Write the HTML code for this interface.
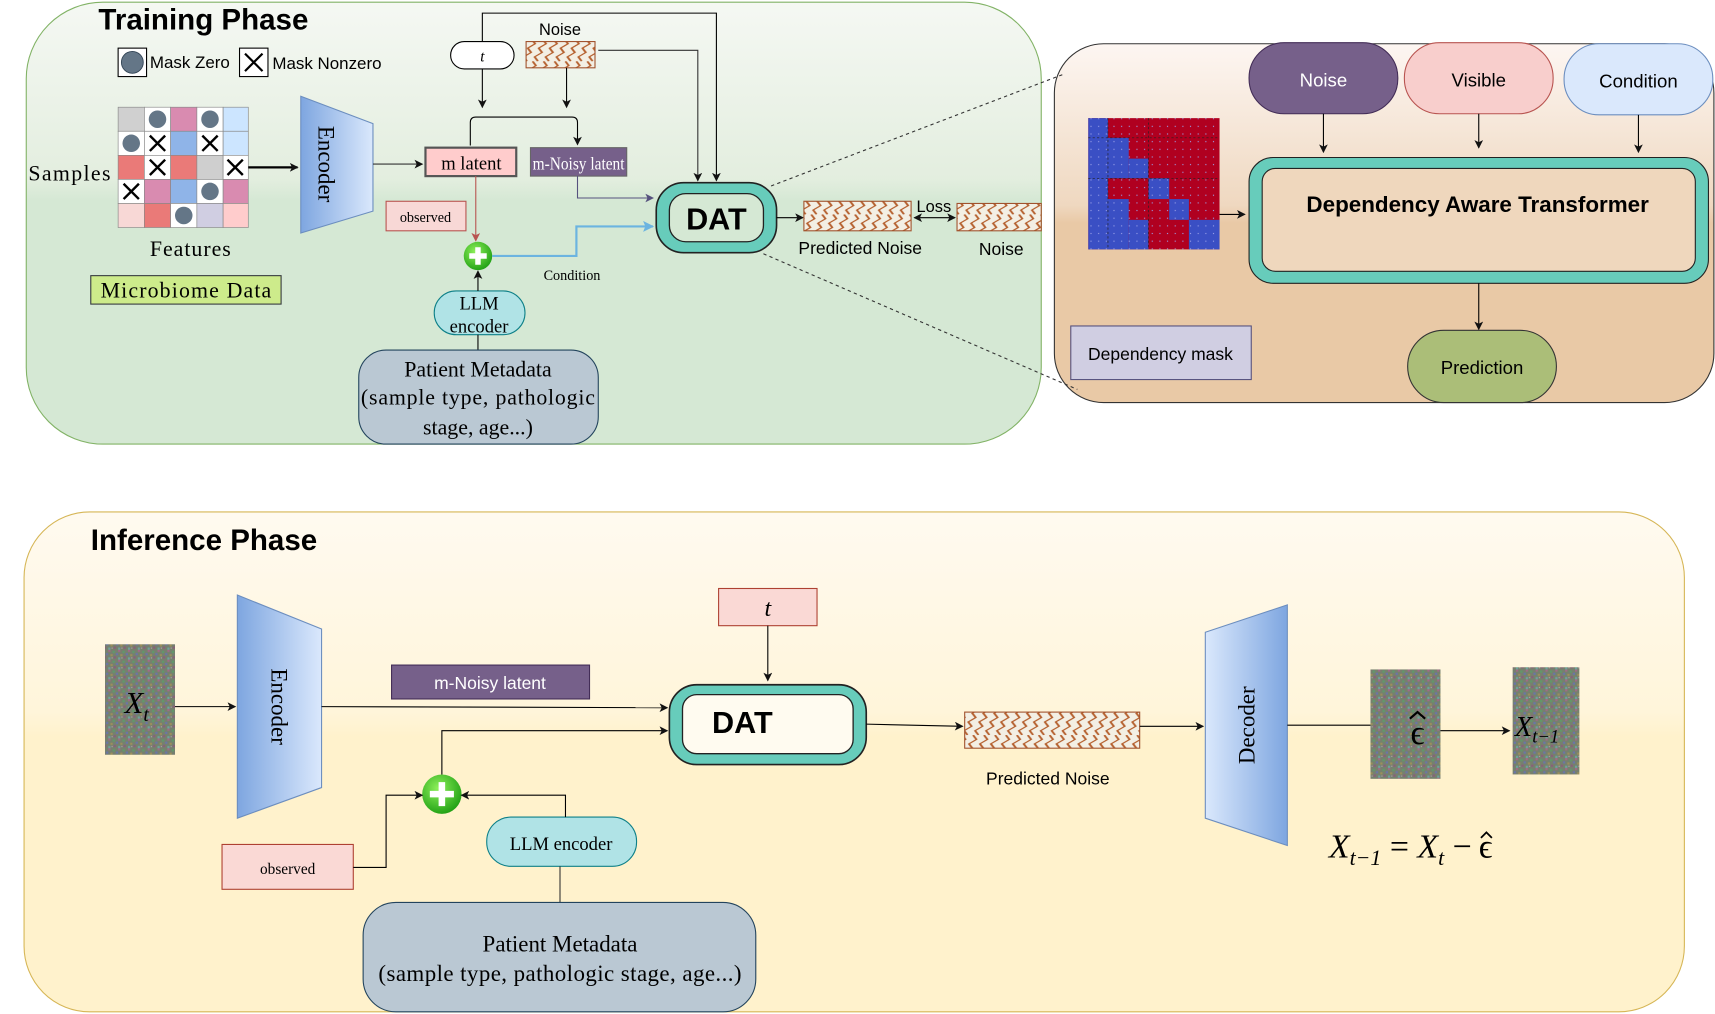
<!DOCTYPE html>
<html><head><meta charset="utf-8"><style>
html,body{margin:0;padding:0;background:#fff;}
svg{display:block;}
.sans{font-family:"Liberation Sans",sans-serif;}
.serif{font-family:"Liberation Serif",serif;}
</style></head><body>
<svg width="1715" height="1014" viewBox="0 0 1568 927" preserveAspectRatio="none" xmlns="http://www.w3.org/2000/svg">
<defs>
<linearGradient id="gTrain" x1="0" y1="0" x2="0" y2="1"><stop offset="0" stop-color="#f5f8f3"/><stop offset="0.4" stop-color="#e3eedf"/><stop offset="0.45" stop-color="#d5e8d4"/><stop offset="1" stop-color="#d5e8d4"/></linearGradient>
<linearGradient id="gRight" x1="0" y1="0" x2="0" y2="1"><stop offset="0" stop-color="#fdf6f2"/><stop offset="0.45" stop-color="#efd8c0"/><stop offset="0.5" stop-color="#e9c9a6"/><stop offset="1" stop-color="#e9c9a6"/></linearGradient>
<linearGradient id="gInf" x1="0" y1="0" x2="0" y2="1"><stop offset="0" stop-color="#fffaf0"/><stop offset="0.4" stop-color="#fff5da"/><stop offset="0.45" stop-color="#fff2cc"/><stop offset="1" stop-color="#fff2cc"/></linearGradient>
<linearGradient id="gEnc" x1="0" y1="0" x2="1" y2="0"><stop offset="0" stop-color="#7ea6e0"/><stop offset="1" stop-color="#dae8fc"/></linearGradient>
<linearGradient id="gDec" x1="0" y1="0" x2="1" y2="0"><stop offset="0" stop-color="#dae8fc"/><stop offset="1" stop-color="#7ea6e0"/></linearGradient>
<radialGradient id="gPlus" cx="0.4" cy="0.35" r="0.7"><stop offset="0" stop-color="#8ef05a"/><stop offset="1" stop-color="#1d9e12"/></radialGradient>
<pattern id="zig" width="10" height="28" patternUnits="userSpaceOnUse" patternTransform="skewX(-25)">
<rect x="-20" width="40" height="28" fill="#f3efe4"/>
<path d="M3,0 l5,4 -5,4 5,4 -5,4 5,4 -5,4 5,4" fill="none" stroke="#b5602e" stroke-width="1.4"/>
</pattern>
<pattern id="noise" width="9" height="9" patternUnits="userSpaceOnUse">
<rect width="9" height="9" fill="#76806e"/>
<rect x="0" y="0" width="2" height="2" fill="#a26a86"/><rect x="4" y="1" width="2" height="2" fill="#5f9a6a"/>
<rect x="7" y="3" width="2" height="2" fill="#6a75a8"/><rect x="2" y="4" width="2" height="2" fill="#9c8f5a"/>
<rect x="5" y="6" width="2" height="2" fill="#8a5f7a"/><rect x="0" y="7" width="2" height="2" fill="#6aa59a"/>
<rect x="3" y="7" width="1" height="1" fill="#c0a0b0"/>
</pattern>
<pattern id="dots" width="7" height="7" patternUnits="userSpaceOnUse"><rect x="3" y="3" width="1" height="1" fill="#9aa0e8"/></pattern>
<marker id="ar" markerWidth="8" markerHeight="8" refX="7" refY="4" orient="auto" markerUnits="userSpaceOnUse"><path d="M0,0 L8,4 L0,8 L2,4 z" fill="#111"/></marker>
<marker id="arR" markerWidth="8" markerHeight="8" refX="7" refY="4" orient="auto" markerUnits="userSpaceOnUse"><path d="M0,0 L8,4 L0,8 L2,4 z" fill="#b85450"/></marker>
<marker id="arB" markerWidth="10" markerHeight="10" refX="9" refY="5" orient="auto" markerUnits="userSpaceOnUse"><path d="M0,0 L10,5 L0,10 L2,5 z" fill="#6cb4e0"/></marker>
<marker id="arP" markerWidth="8" markerHeight="8" refX="7" refY="4" orient="auto" markerUnits="userSpaceOnUse"><path d="M0,0 L8,4 L0,8 L2,4 z" fill="#56517e"/></marker>
<marker id="arS" markerWidth="8" markerHeight="8" refX="1" refY="4" orient="auto" markerUnits="userSpaceOnUse"><path d="M8,0 L0,4 L8,8 L6,4 z" fill="#111"/></marker>
</defs>

<rect x="24" y="2" width="928" height="404" rx="70" fill="url(#gTrain)" stroke="#82b366" stroke-width="1"/>
<rect x="964" y="40" width="603" height="328" rx="45" fill="url(#gRight)" stroke="#333" stroke-width="1"/>
<rect x="22" y="468" width="1518" height="457" rx="60" fill="url(#gInf)" stroke="#d6b656" stroke-width="1"/>

<!-- Training -->
<text x="90" y="27" class="sans" font-size="27" font-weight="bold">Training Phase</text>
<rect x="108" y="44" width="26" height="26" fill="#fff" stroke="#000"/><circle cx="121" cy="57" r="10" fill="#647687" stroke="#314354" stroke-width="0.8"/>
<text x="137" y="62" class="sans" font-size="15.5">Mask Zero</text>
<rect x="219" y="44" width="26" height="26" fill="#fff" stroke="#000"/><path d="M224,49 l16,16 M240,49 l-16,16" stroke="#000" stroke-width="2"/>
<text x="249" y="63" class="sans" font-size="15.5">Mask Nonzero</text>

<g stroke="#888" stroke-width="0.6">
<rect x="108" y="98" width="24" height="22" fill="#d0d0d0"/><rect x="132" y="98" width="24" height="22" fill="#fff"/><rect x="156" y="98" width="24" height="22" fill="#d98bb0"/><rect x="180" y="98" width="24" height="22" fill="#fff"/><rect x="204" y="98" width="23" height="22" fill="#cce5ff"/>
<rect x="108" y="120" width="24" height="22" fill="#fff"/><rect x="132" y="120" width="24" height="22" fill="#fff"/><rect x="156" y="120" width="24" height="22" fill="#8fb4e8"/><rect x="180" y="120" width="24" height="22" fill="#fff"/><rect x="204" y="120" width="23" height="22" fill="#cce5ff"/>
<rect x="108" y="142" width="24" height="22" fill="#ea7a78"/><rect x="132" y="142" width="24" height="22" fill="#fff"/><rect x="156" y="142" width="24" height="22" fill="#ea7a78"/><rect x="180" y="142" width="24" height="22" fill="#cfcfcf"/><rect x="204" y="142" width="23" height="22" fill="#fff"/>
<rect x="108" y="164" width="24" height="22" fill="#fff"/><rect x="132" y="164" width="24" height="22" fill="#d98bb0"/><rect x="156" y="164" width="24" height="22" fill="#8fb4e8"/><rect x="180" y="164" width="24" height="22" fill="#fff"/><rect x="204" y="164" width="23" height="22" fill="#d98bb0"/>
<rect x="108" y="186" width="24" height="22" fill="#f8d8d6"/><rect x="132" y="186" width="24" height="22" fill="#ea7a78"/><rect x="156" y="186" width="24" height="22" fill="#fff"/><rect x="180" y="186" width="24" height="22" fill="#d0cee2"/><rect x="204" y="186" width="23" height="22" fill="#ffcccc"/>
</g>
<g fill="#647687">
<circle cx="144" cy="109" r="8"/><circle cx="192" cy="109" r="8"/><circle cx="120" cy="131" r="8"/><circle cx="192" cy="175" r="8"/><circle cx="168" cy="197" r="8"/>
</g>
<g stroke="#000" stroke-width="2.2">
<path d="M137,124 l14,14 M151,124 l-14,14"/><path d="M185,124 l14,14 M199,124 l-14,14"/>
<path d="M137,146 l14,14 M151,146 l-14,14"/><path d="M208,146 l14,14 M222,146 l-14,14"/>
<path d="M113,168 l14,14 M127,168 l-14,14"/>
</g>
<text x="26" y="165" class="serif" font-size="20" textLength="75">Samples</text>
<text x="137" y="234" class="serif" font-size="20" textLength="74">Features</text>
<rect x="83" y="252" width="174" height="26" fill="#cdeb8b" stroke="#36393d"/>
<text x="170" y="272" class="serif" font-size="20" text-anchor="middle" textLength="156">Microbiome Data</text>
<line x1="227" y1="153" x2="272" y2="153" stroke="#000" stroke-width="2" marker-end="url(#ar)"/>

<polygon points="275,88 341,113 341,193 275,213" fill="url(#gEnc)" stroke="#6c8ebf"/>
<text transform="translate(291,150) rotate(90)" class="serif" font-size="21" text-anchor="middle">Encoder</text>
<line x1="341" y1="150" x2="386" y2="150" stroke="#333" marker-end="url(#ar)"/>

<rect x="389" y="135" width="83" height="26" fill="#ffcccc" stroke="#555" stroke-width="2"/>
<text x="431" y="155" class="serif" font-size="17" text-anchor="middle">m latent</text>
<rect x="485" y="135" width="88" height="26" fill="#76608a" stroke="#666"/>
<text x="529" y="155" class="serif" font-size="16" text-anchor="middle" fill="#fff" textLength="84" lengthAdjust="spacingAndGlyphs">m-Noisy latent</text>

<rect x="412" y="38" width="58" height="25" rx="12.5" fill="#fff" stroke="#000"/>
<text x="441" y="56" class="serif" font-size="14" font-style="italic" text-anchor="middle">t</text>
<text x="512" y="32" class="sans" font-size="15" text-anchor="middle">Noise</text>
<rect x="481" y="38" width="63" height="24" fill="url(#zig)" stroke="#a0522d"/>

<path d="M441,38 V12 H655 V165" fill="none" stroke="#000" marker-end="url(#ar)"/>
<path d="M547,46 H638 V165" fill="none" stroke="#333" marker-end="url(#ar)"/>
<line x1="441" y1="63" x2="441" y2="98" stroke="#000" marker-end="url(#ar)"/>
<line x1="518" y1="62" x2="518" y2="98" stroke="#000" marker-end="url(#ar)"/>
<path d="M430,133 V112 q0,-5 5,-5 H523 q5,0 5,5 V132" fill="none" stroke="#000" marker-end="url(#ar)"/>

<line x1="435" y1="161" x2="435" y2="220" stroke="#b85450" marker-end="url(#arR)"/>
<rect x="353" y="184" width="73" height="27" fill="#f8d8d6" stroke="#b85450"/>
<text x="389" y="203" class="serif" font-size="13" text-anchor="middle">observed</text>
<circle cx="437" cy="234" r="13" fill="url(#gPlus)"/>
<path d="M437,226 V242 M429,234 H445" stroke="#fff" stroke-width="5"/>
<path d="M450,234 H527 V207 H597" fill="none" stroke="#6cb4e0" stroke-width="2" marker-end="url(#arB)"/>
<path d="M528,161 V181 H597" fill="none" stroke="#56517e" marker-end="url(#arP)"/>
<text x="497" y="256" class="serif" font-size="13">Condition</text>

<rect x="397" y="266" width="83" height="40" rx="20" fill="#b0e3e6" stroke="#0e8088"/>
<text x="438" y="283" class="serif" font-size="17" text-anchor="middle">LLM</text>
<text x="438" y="304" class="serif" font-size="17" text-anchor="middle">encoder</text>
<line x1="437" y1="266" x2="437" y2="248" stroke="#000" marker-end="url(#ar)"/>
<line x1="437" y1="306" x2="437" y2="320" stroke="#000"/>
<rect x="328" y="320" width="219" height="86" rx="25" fill="#bac8d3" stroke="#23445d"/>
<g class="serif" font-size="20" text-anchor="middle"><text x="437" y="344">Patient Metadata</text><text x="437" y="370" textLength="214">(sample type, pathologic</text><text x="437" y="397">stage, age...)</text></g>

<rect x="600" y="167" width="110" height="64" rx="25" fill="#67ccbb" stroke="#222" stroke-width="1.5"/>
<rect x="612" y="177" width="86" height="44" rx="15" fill="#d5e8d4" stroke="#222" stroke-width="1.2"/>
<text x="655" y="210" class="sans" font-size="28" font-weight="bold" text-anchor="middle">DAT</text>
<line x1="710" y1="199" x2="734" y2="199" stroke="#000" marker-end="url(#ar)"/>
<rect x="735" y="184" width="98" height="27" fill="url(#zig)" stroke="#a0522d"/>
<line x1="836" y1="199" x2="873" y2="199" stroke="#000" marker-end="url(#ar)" marker-start="url(#arS)"/>
<text x="838" y="194" class="sans" font-size="15">Loss</text>
<rect x="875" y="186" width="77" height="25" fill="url(#zig)" stroke="#a0522d"/>
<text x="730" y="232" class="sans" font-size="16">Predicted Noise</text>
<text x="895" y="233" class="sans" font-size="16">Noise</text>
<line x1="705" y1="170" x2="972" y2="68" stroke="#333" stroke-dasharray="3,3"/>
<line x1="698" y1="232" x2="985" y2="356" stroke="#333" stroke-dasharray="3,3"/>

<!-- Right panel -->
<rect x="1142" y="39" width="136" height="65" rx="32" fill="#76608a" stroke="#432d57"/>
<text x="1210" y="79" class="sans" font-size="17" fill="#fff" text-anchor="middle">Noise</text>
<rect x="1284" y="39" width="136" height="65" rx="32" fill="#f8cecc" stroke="#b85450"/>
<text x="1352" y="79" class="sans" font-size="17" text-anchor="middle">Visible</text>
<rect x="1430" y="40" width="136" height="65" rx="32" fill="#dae8fc" stroke="#6c8ebf"/>
<text x="1498" y="80" class="sans" font-size="17" text-anchor="middle">Condition</text>
<line x1="1210" y1="104" x2="1210" y2="139" stroke="#000" marker-end="url(#ar)"/>
<line x1="1352" y1="104" x2="1352" y2="135" stroke="#000" marker-end="url(#ar)"/>
<line x1="1498" y1="105" x2="1498" y2="139" stroke="#000" marker-end="url(#ar)"/>
<rect x="1142" y="144" width="420" height="115" rx="22" fill="#67ccbb" stroke="#222"/>
<rect x="1154" y="154" width="396" height="94" rx="12" fill="#efd7bd" stroke="#222"/>
<text x="1351" y="194" class="sans" font-size="20.5" font-weight="bold" text-anchor="middle">Dependency Aware Transformer</text>

<g>
<rect x="995" y="108" width="120" height="120" fill="#b00020"/>
<g fill="#3a4fc4">
<rect x="995" y="108" width="18" height="120"/>
<rect x="1013" y="126" width="19" height="37"/>
<rect x="1032" y="145" width="18" height="18"/>
<rect x="1050" y="163" width="19" height="19"/>
<rect x="1013" y="182" width="19" height="46"/>
<rect x="1069" y="182" width="18" height="19"/>
<rect x="1032" y="201" width="18" height="27"/>
<rect x="1087" y="201" width="28" height="27"/>
</g>
<rect x="995" y="108" width="120" height="120" fill="url(#dots)"/>
<path d="M995,126 H1115 M995,163 H1115 M1013,108 V228 M1050,108 V228" stroke="#222" stroke-width="0.6" stroke-dasharray="2,2"/>
</g>
<line x1="1115" y1="196" x2="1138" y2="196" stroke="#000" marker-end="url(#ar)"/>
<line x1="1352" y1="259" x2="1352" y2="301" stroke="#000" marker-end="url(#ar)"/>
<rect x="1287" y="302" width="136" height="66" rx="33" fill="#abbe78" stroke="#333"/>
<text x="1355" y="342" class="sans" font-size="17" text-anchor="middle">Prediction</text>
<rect x="979" y="298" width="165" height="49" fill="#d0cee2" stroke="#56517e"/>
<text x="1061" y="329" class="sans" font-size="16" text-anchor="middle">Dependency mask</text>

<!-- Inference -->
<text x="83" y="503" class="sans" font-size="27" font-weight="bold">Inference Phase</text>
<rect x="96" y="589" width="64" height="101" fill="url(#noise)"/>
<text x="114" y="652" class="serif" font-size="28" font-style="italic">X<tspan font-size="18" dy="7">t</tspan></text>
<line x1="160" y1="646" x2="215" y2="646" stroke="#000" marker-end="url(#ar)"/>
<polygon points="217,544 294,575 294,720 217,748" fill="url(#gEnc)" stroke="#6c8ebf"/>
<text transform="translate(248,646) rotate(90)" class="serif" font-size="21" text-anchor="middle">Encoder</text>
<rect x="358" y="608" width="181" height="31" fill="#76608a" stroke="#432d57"/>
<text x="448" y="630" class="sans" font-size="16" fill="#fff" text-anchor="middle">m-Noisy latent</text>
<line x1="294" y1="646" x2="610" y2="647" stroke="#000" marker-end="url(#ar)"/>
<rect x="657" y="538" width="90" height="34" fill="#fad9d5" stroke="#ae4132"/>
<text x="702" y="563" class="serif" font-size="22" font-style="italic" text-anchor="middle">t</text>
<line x1="702" y1="572" x2="702" y2="622" stroke="#000" marker-end="url(#ar)"/>
<rect x="612" y="626" width="180" height="73" rx="25" fill="#67ccbb" stroke="#222" stroke-width="1.5"/>
<rect x="624" y="635" width="156" height="54" rx="13" fill="#fffbf0" stroke="#222" stroke-width="1.2"/>
<text x="651" y="670" class="sans" font-size="28" font-weight="bold">DAT</text>
<path d="M404,708 V668 H610" fill="none" stroke="#000" marker-end="url(#ar)"/>
<circle cx="404" cy="726" r="18" fill="url(#gPlus)"/>
<path d="M404,715 V737 M393,726 H415" stroke="#fff" stroke-width="6"/>
<rect x="203" y="772" width="120" height="41" fill="#fad9d5" stroke="#ae4132"/>
<text x="263" y="799" class="serif" font-size="14" text-anchor="middle">observed</text>
<path d="M323,793 H353 V727 H386" fill="none" stroke="#000" marker-end="url(#ar)"/>
<rect x="445" y="747" width="137" height="45" rx="22" fill="#b0e3e6" stroke="#0e8088"/>
<text x="513" y="777" class="serif" font-size="17" text-anchor="middle">LLM encoder</text>
<path d="M517,747 V727 H422" fill="none" stroke="#000" marker-end="url(#ar)"/>
<line x1="512" y1="792" x2="512" y2="825" stroke="#333"/>
<rect x="332" y="825" width="359" height="100" rx="30" fill="#bac8d3" stroke="#23445d"/>
<text x="512" y="870" class="serif" font-size="21" text-anchor="middle">Patient Metadata</text>
<text x="512" y="897" class="serif" font-size="21" text-anchor="middle" textLength="332">(sample type, pathologic stage, age...)</text>

<line x1="792" y1="662" x2="880" y2="664" stroke="#000" marker-end="url(#ar)"/>
<rect x="882" y="651" width="160" height="33" fill="url(#zig)" stroke="#a0522d"/>
<text x="958" y="717" class="sans" font-size="16" text-anchor="middle">Predicted Noise</text>
<line x1="1042" y1="664" x2="1100" y2="664" stroke="#000" marker-end="url(#ar)"/>
<polygon points="1102,578 1177,553 1177,773 1102,748" fill="url(#gDec)" stroke="#6c8ebf"/>
<text transform="translate(1147,663) rotate(-90)" class="serif" font-size="21" text-anchor="middle">Decoder</text>
<line x1="1177" y1="663" x2="1253" y2="663" stroke="#000"/>
<rect x="1253" y="612" width="64" height="100" fill="url(#noise)"/>
<text x="1296" y="680" class="serif" font-size="32" text-anchor="middle">ϵ</text>
<path d="M1289,657 l7,-6 7,6" fill="none" stroke="#000" stroke-width="2"/>
<line x1="1317" y1="668" x2="1380" y2="668" stroke="#000" marker-end="url(#ar)"/>
<rect x="1383" y="610" width="61" height="98" fill="url(#noise)"/>
<text x="1385" y="673" class="serif" font-size="26" font-style="italic">X<tspan font-size="17" dy="6">t−1</tspan></text>

<text x="1215" y="784" class="serif" font-size="31" font-style="italic">X<tspan font-size="20" dy="7">t−1</tspan><tspan dy="-7" font-style="normal"> = </tspan>X<tspan font-size="20" dy="7">t</tspan><tspan dy="-7" font-style="normal"> − </tspan></text>
<text x="1352" y="784" class="serif" font-size="31">ϵ</text>
<path d="M1354,766 l5,-5 5,5" fill="none" stroke="#000" stroke-width="1.6"/>
</svg>
</body></html>
